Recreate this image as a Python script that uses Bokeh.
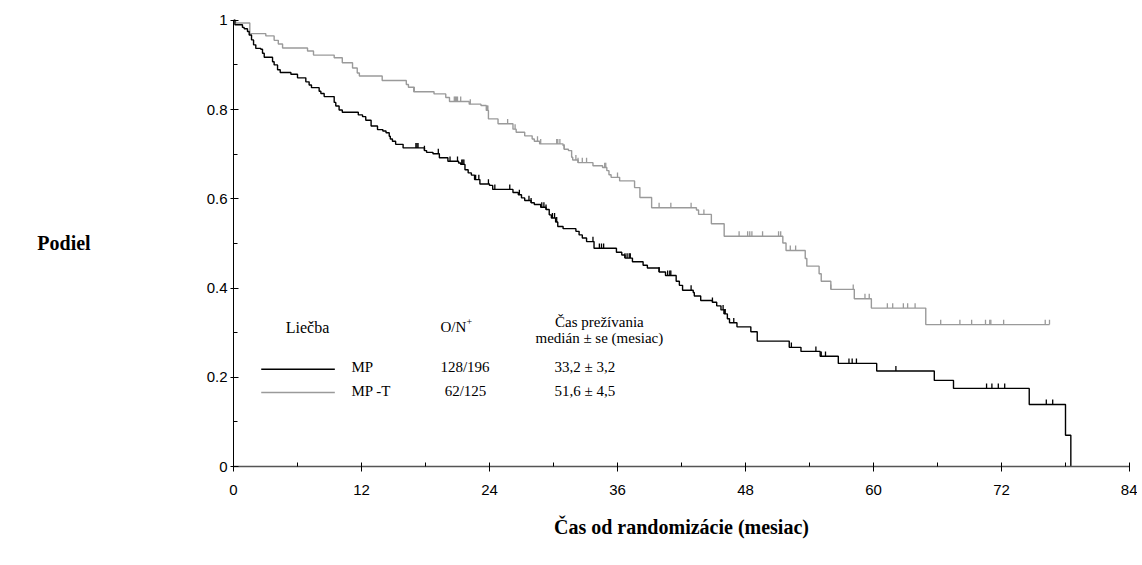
import numpy as np
from bokeh.plotting import figure
from bokeh.models import Range1d, FixedTicker, Label
from bokeh.embed import file_html
from bokeh.resources import INLINE

# ---------------- data ----------------
# MP (black): event times (months) and survival after each step
mp_time = [0, 0.13, 0.84, 1.0, 1.31, 1.47, 1.69, 1.88, 2.09, 2.56, 2.72, 2.88, 3.66, 3.81, 4.13, 4.38,
           5.38, 6.0, 6.78, 7.09, 7.31, 8.03, 8.19, 8.5, 9.44, 9.59, 9.9, 10.2, 11.7, 12.1, 12.4, 12.9,
           13.5, 14.0, 14.3, 14.6, 14.7, 14.9, 15.2, 15.9, 17.9, 18.1, 18.7, 19.3, 20.1, 21.1, 21.3,
           21.7, 22.0, 22.3, 22.6, 23.1, 24.0, 24.3, 26.2, 26.7, 27.0, 27.3, 27.9, 28.2, 28.8, 29.3,
           29.6, 29.8, 30.2, 30.4, 30.9, 32.1, 32.4, 32.7, 33.1, 33.8, 35.9, 36.4, 36.7, 37.4, 38.4,
           38.8, 39.9, 40.5, 41.5, 41.8, 42.1, 43.1, 43.2, 43.8, 44.9, 45.3, 45.7, 46.0, 46.3, 46.5,
           47.2, 48.5, 49.1, 52.1, 53.2, 55.0, 56.7, 60.3, 65.7, 67.5, 74.6, 78.0, 78.5]
mp_surv = [1.0, 0.990, 0.984, 0.981, 0.975, 0.967, 0.956, 0.945, 0.937, 0.935, 0.926, 0.917, 0.907, 0.900,
           0.889, 0.883, 0.879, 0.871, 0.862, 0.855, 0.849, 0.841, 0.836, 0.829, 0.816, 0.808, 0.799,
           0.794, 0.788, 0.784, 0.776, 0.763, 0.755, 0.752, 0.748, 0.740, 0.734, 0.729, 0.722, 0.714,
           0.708, 0.704, 0.701, 0.692, 0.684, 0.680, 0.677, 0.665, 0.658, 0.653, 0.643, 0.633, 0.630,
           0.621, 0.614, 0.609, 0.602, 0.596, 0.591, 0.587, 0.581, 0.576, 0.564, 0.557, 0.548, 0.538,
           0.533, 0.527, 0.519, 0.512, 0.504, 0.489, 0.480, 0.474, 0.467, 0.459, 0.451, 0.445, 0.436,
           0.428, 0.415, 0.406, 0.395, 0.390, 0.382, 0.372, 0.368, 0.360, 0.351, 0.342, 0.331, 0.322,
           0.313, 0.302, 0.281, 0.267, 0.258, 0.247, 0.231, 0.214, 0.193, 0.175, 0.139, 0.070, 0.0]
mp_censor = [17.1, 17.2, 17.3, 17.9, 19.2, 20.3, 21.0, 21.4, 21.5, 21.6, 22.7, 23.0, 23.9, 24.5, 25.9,
             26.8, 27.7, 27.9, 28.9, 29.1, 29.3, 29.9, 30.1, 30.3, 33.7, 34.3, 34.5, 34.7, 36.7, 36.9,
             37.1, 37.2, 39.9, 40.7, 40.9, 41.0, 42.9, 44.9, 45.9, 46.0, 46.1, 46.9, 52.3, 54.6, 55.1,
             55.5, 57.7, 58.0, 58.4, 62.1, 70.6, 71.1, 71.7, 72.3, 76.2, 76.8]

# MP-T (grey)
mpt_time = [0, 0.2, 1.53, 3.03, 3.81, 4.2, 4.6, 6.94, 7.5, 9.44, 10.2, 11.16, 11.6, 11.8, 13.94, 16.2,
            16.4, 16.9, 18.8, 19.9, 20.25, 22.1, 23.2, 23.7, 23.9, 24.8, 26.2, 26.5, 27.3, 28.0, 28.2,
            28.7, 30.9, 31.0, 31.4, 31.7, 31.8, 32.3, 33.7, 34.6, 35.0, 35.2, 35.4, 36.2, 37.6, 38.1,
            39.2, 43.4, 43.6, 44.8, 46.0, 51.5, 51.8, 53.6, 53.75, 54.9, 55.1, 56.0, 58.2, 59.8, 64.9]
mpt_surv = [1.0, 0.994, 0.970, 0.965, 0.955, 0.947, 0.938, 0.931, 0.922, 0.916, 0.905, 0.893, 0.882,
            0.875, 0.865, 0.856, 0.850, 0.840, 0.835, 0.827, 0.818, 0.812, 0.809, 0.798, 0.779, 0.768,
            0.756, 0.749, 0.741, 0.734, 0.729, 0.723, 0.719, 0.711, 0.708, 0.693, 0.687, 0.681, 0.674,
            0.670, 0.663, 0.654, 0.648, 0.640, 0.625, 0.603, 0.580, 0.575, 0.565, 0.544, 0.516, 0.501,
            0.484, 0.466, 0.449, 0.432, 0.415, 0.397, 0.376, 0.355, 0.318]
mpt_end = 76.5
mpt_censor = [16.95, 20.7, 20.8, 20.9, 21.0, 21.3, 22.2, 23.8, 23.85, 25.7, 26.4, 28.5, 28.8, 30.3, 30.4,
              30.6, 31.0, 32.1, 32.3, 32.7, 33.1, 34.8, 34.9, 36.0, 39.9, 41.0, 42.9, 44.1, 47.4, 48.2,
              48.4, 48.6, 49.6, 51.1, 51.3, 52.2, 52.7, 56.0, 58.1, 59.2, 59.6, 61.3, 61.8, 62.8, 63.2,
              63.9, 66.3, 68.1, 69.2, 70.5, 70.9, 71.0, 72.2, 76.1, 76.5]

x_ticks = [0, 12, 24, 36, 48, 60, 72, 84]
x_minor = [6, 18, 30, 42, 54, 66, 78]
y_ticks = [0, 0.2, 0.4, 0.6, 0.8, 1.0]
y_tick_labels = ["0", "0.2", "0.4", "0.6", "0.8", "1"]
y_minor = [0.1, 0.3, 0.5, 0.7, 0.9]

legend_names = ["MP", "MP -T"]
legend_on = ["128/196", "62/125"]
legend_median = ["33,2 \u00b1 3,2", "51,6 \u00b1 4,5"]

BLACK = "#000000"
GREY = "#9a9a9a"
SERIF = "Liberation Serif"
SANS = "Liberation Sans"

# ---------------- figure ----------------
p = figure(frame_width=896, frame_height=448, min_border_left=233, min_border_right=8,
           min_border_top=18, min_border_bottom=85,
           x_range=Range1d(0, 84), y_range=Range1d(0, 1.004),
           output_backend="svg", toolbar_location=None)
p.outline_line_color = None
p.xgrid.visible = False
p.ygrid.visible = False
p.background_fill_color = "white"
p.border_fill_color = "white"


def add_curve(times, surv, end, color, censor):
    xs = list(times) + ([end] if end is not None else [])
    ys = list(surv) + ([surv[-1]] if end is not None else [])
    p.step(xs, ys, mode="after", line_color=color, line_width=1.4)
    t = np.asarray(times)
    s = np.asarray(surv)
    c = np.asarray(censor)
    idx = np.searchsorted(t, c, side="right") - 1
    lvl = s[idx]
    p.segment(x0=c, y0=lvl, x1=c, y1=lvl + 0.011, line_color=color, line_width=1.3)


add_curve(mpt_time, mpt_surv, mpt_end, GREY, mpt_censor)
add_curve(mp_time, mp_surv, None, BLACK, mp_censor)

# axes
xa = p.xaxis[0]
xa.ticker = FixedTicker(ticks=x_ticks, minor_ticks=x_minor)
xa.axis_line_color = "#555555"
xa.axis_line_width = 1.5
xa.major_tick_in = 4
xa.major_tick_out = 5
xa.minor_tick_in = 4
xa.minor_tick_out = 0
xa.major_tick_line_color = BLACK
xa.minor_tick_line_color = BLACK
xa.major_label_text_font = SANS
xa.major_label_text_font_size = "15px"
xa.major_label_text_color = BLACK
xa.major_label_standoff = 13
xa.axis_label = "\u010cas od randomiz\u00e1cie (mesiac)"
xa.axis_label_text_font = SERIF
xa.axis_label_text_font_style = "bold"
xa.axis_label_text_font_size = "20px"
xa.axis_label_text_color = BLACK
xa.axis_label_standoff = 18

ya = p.yaxis[0]
ya.ticker = FixedTicker(ticks=y_ticks, minor_ticks=y_minor)
ya.major_label_overrides = {v: lab for v, lab in zip(y_ticks, y_tick_labels)}
ya.bounds = (0, 1)
ya.axis_line_color = BLACK
ya.major_tick_in = 5
ya.major_tick_out = 3
ya.minor_tick_in = 4
ya.minor_tick_out = 0
ya.major_label_text_font = SANS
ya.major_label_text_font_size = "15px"
ya.major_label_text_color = BLACK
ya.major_label_standoff = 3
ya.axis_label = "Podiel"
ya.axis_label_orientation = "horizontal"
ya.axis_label_text_font = SERIF
ya.axis_label_text_font_style = "bold"
ya.axis_label_text_font_size = "20px"
ya.axis_label_text_color = BLACK
ya.axis_label_standoff = 113

# legend table (positions in data units)
def lab(x, y, text, align="left", size="15px", baseline="middle"):
    p.add_layout(Label(x=x, y=y, text=text, text_font=SERIF, text_font_size=size,
                       text_align=align, text_baseline=baseline, text_color=BLACK))

lab(4.9, 0.312, "Lie\u010dba", size="16px")
lab(19.4, 0.312, "O/N")
lab(21.85, 0.325, "+", size="10px")
lab(34.3, 0.323, "\u010cas pre\u017e\u00edvania", align="center")
lab(34.3, 0.288, "medi\u00e1n \u00b1 se (mesiac)", align="center")

row_y = [0.218, 0.166]
colors = [BLACK, GREY]
for i in range(2):
    p.line([2.6, 9.5], [row_y[i], row_y[i]], line_color=colors[i], line_width=1.4)
    lab(11.06, row_y[i] + 0.004, legend_names[i])
    lab(19.4 + 0.4 * i, row_y[i] + 0.004, legend_on[i])
    lab(30.1, row_y[i] + 0.004, legend_median[i])

open("out.html", "w").write(file_html(p, INLINE))
